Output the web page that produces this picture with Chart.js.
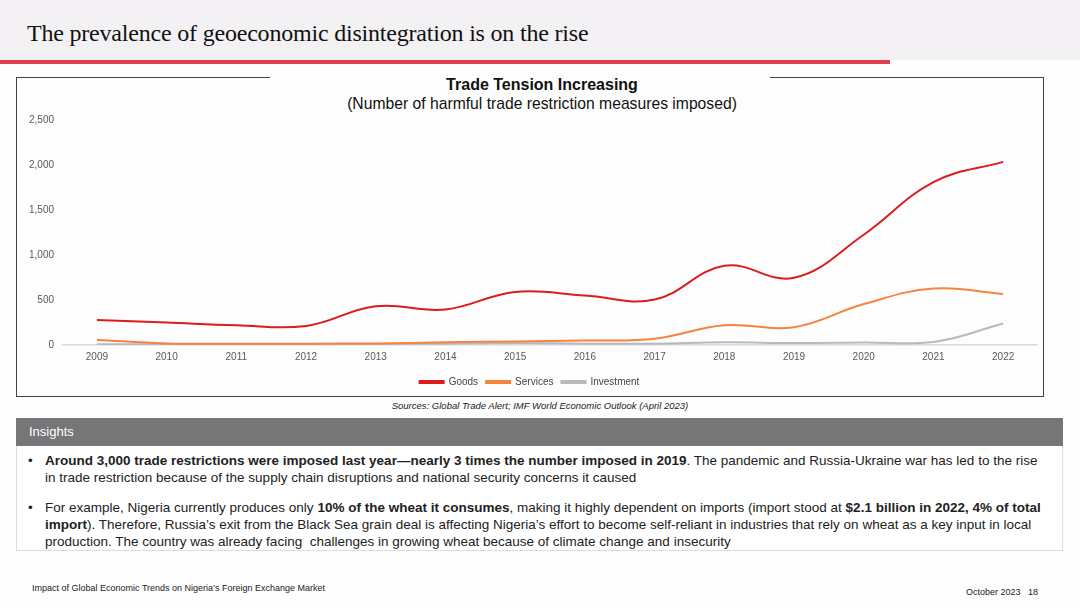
<!DOCTYPE html>
<html>
<head>
<meta charset="utf-8">
<script src="https://cdn.jsdelivr.net/npm/chart.js@4.4.0/dist/chart.umd.min.js"></script>
<style>
  body { margin: 0; width: 1080px; height: 608px; background: #fdfdfd; font-family: "Liberation Sans", Arial, sans-serif; position: relative; overflow: hidden; }
  .header { position: absolute; left: 0; top: 0; width: 1080px; height: 60px; background: #f3f1f4; }
  .header h1 { position: absolute; left: 27px; top: 20px; margin: 0; font: 24px "Liberation Serif", "DejaVu Serif", serif; color: #111; letter-spacing: -0.2px; }
  .redline { position: absolute; left: 0; top: 60px; width: 890px; height: 4px; background: #e0404e; }
  .box { position: absolute; background: #444; }
  .ctitle { position: absolute; left: 0; width: 1084px; text-align: center; color: #111; }
  #chartWrap { position: absolute; left: 17px; top: 106px; width: 1026px; height: 291px; }
  .sources { position: absolute; left: 0; width: 1080px; top: 400px; text-align: center; font-size: 9.5px; font-style: italic; color: #222; }
  .insHead { position: absolute; left: 16px; top: 418px; width: 1047px; height: 28px; background: #767577; color: #fff; font-size: 13px; line-height: 28px; padding-left: 13px; box-sizing: border-box; }
  .insBody { position: absolute; left: 16px; top: 446px; width: 1047px; height: 105px; border: 1px solid #ddd; border-top: none; box-sizing: border-box; background: #fff; }
  .bul { position: absolute; left: 28px; width: 1022px; font-size: 13.5px; line-height: 17px; color: #222; padding-left: 17px; box-sizing: border-box; }
  .bul:before { content: "\2022"; position: absolute; left: 0; }
  .foot1 { position: absolute; left: 32px; top: 583px; font-size: 9px; color: #222; }
  .foot2 { position: absolute; left: 966px; top: 587px; font-size: 9px; color: #222; }
</style>
</head>
<body>
<div class="header"><h1>The prevalence of geoeconomic disintegration is on the rise</h1></div>
<div class="redline"></div>

<div class="box" style="left:16px;top:77px;width:254px;height:1px;"></div>
<div class="box" style="left:770px;top:77px;width:274px;height:1px;"></div>
<div class="box" style="left:16px;top:77px;width:1px;height:320px;"></div>
<div class="box" style="left:1043px;top:77px;width:1px;height:320px;"></div>
<div class="box" style="left:16px;top:396px;width:1028px;height:1px;"></div>

<div class="ctitle" style="top:76px;font-size:16px;font-weight:bold;">Trade Tension Increasing</div>
<div class="ctitle" style="top:95px;font-size:15.7px;">(Number of harmful trade restriction measures imposed)</div>

<div id="chartWrap"><canvas id="tradeChart"></canvas></div>

<div class="sources">Sources: Global Trade Alert; IMF World Economic Outlook (April 2023)</div>

<div class="insHead">Insights</div>
<div class="insBody"></div>
<div class="bul" style="top:452px;"><b>Around 3,000 trade restrictions were imposed last year—nearly 3 times the number imposed in 2019</b>. The pandemic and Russia-Ukraine war has led to the rise in trade restriction because of the supply chain disruptions and national security concerns it caused</div>
<div class="bul" style="top:499px;">For example, Nigeria currently produces only <b>10% of the wheat it consumes</b>, making it highly dependent on imports (import stood at <b>$2.1 billion in 2022, 4% of total import</b>). Therefore, Russia’s exit from the Black Sea grain deal is affecting Nigeria’s effort to become self-reliant in industries that rely on wheat as a key input in local production. The country was already facing&nbsp; challenges in growing wheat because of climate change and insecurity</div>

<div class="foot1">Impact of Global Economic Trends on Nigeria’s Foreign Exchange Market</div>
<div class="foot2">October 2023 &nbsp; 18</div>

<script>
const years = ['2009', '2010', '2011', '2012', '2013', '2014', '2015', '2016', '2017', '2018', '2019', '2020', '2021', '2022'];
const goods = [278, 250, 220, 212, 430, 395, 590, 550, 505, 880, 748, 1225, 1810, 2035];
const services = [56, 18, 15, 15, 18, 30, 40, 50, 70, 220, 198, 455, 627, 568];
const investment = [8, 10, 10, 10, 12, 15, 22, 15, 15, 30, 22, 28, 33, 238];

Chart.defaults.font.family = '"Liberation Sans", Arial, sans-serif';
Chart.defaults.color = '#595959';

const tradeChart = new Chart(document.getElementById('tradeChart'), {
  type: 'line',
  data: {
    labels: years,
    datasets: [
      { label: 'Goods', data: goods, borderColor: '#dc1c1c', backgroundColor: '#dc1c1c' },
      { label: 'Services', data: services, borderColor: '#f5843c', backgroundColor: '#f5843c' },
      { label: 'Investment', data: investment, borderColor: '#b9b9b9', backgroundColor: '#b9b9b9' }
    ]
  },
  options: {
    responsive: true,
    maintainAspectRatio: false,
    animation: false,
    elements: {
      line: { tension: 0.4, borderWidth: 2 },
      point: { radius: 0 }
    },
    layout: { padding: { left: 4, right: 5, top: 3, bottom: 0 } },
    plugins: {
      legend: {
        position: 'bottom',
        labels: {
          boxWidth: 24,
          boxHeight: 2,
          padding: 8,
          font: { size: 10 },
          color: '#444'
        }
      },
      tooltip: { enabled: false }
    },
    scales: {
      x: {
        offset: true,
        grid: { display: false, drawTicks: false },
        border: { display: false },
        ticks: { font: { size: 10 }, padding: 6 }
      },
      y: {
        min: 0,
        max: 2500,
        ticks: { stepSize: 500, font: { size: 10 }, padding: 8 },
        grid: {
          drawTicks: false,
          color: (ctx) => ctx.tick && ctx.tick.value === 0 ? '#d9d9d9' : 'rgba(0,0,0,0)',
          lineWidth: 1.5
        },
        border: { display: false }
      }
    }
  }
});
</script>
</body>
</html>
